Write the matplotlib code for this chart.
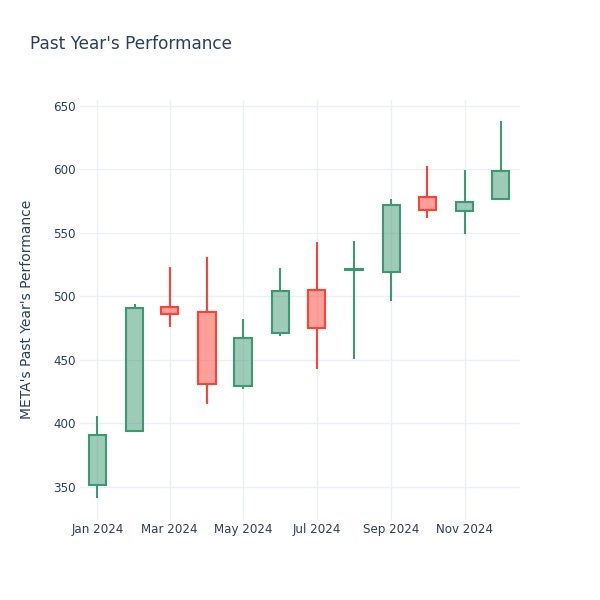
import matplotlib
matplotlib.use("Agg")
import matplotlib.pyplot as plt
import matplotlib.dates as mdates
import pandas as pd
import numpy as np

months = ["2024-01-01", "2024-02-01", "2024-03-01", "2024-04-01", "2024-05-01", "2024-06-01",
          "2024-07-01", "2024-08-01", "2024-09-01", "2024-10-01", "2024-11-01", "2024-12-01"]
open_ = [351, 394, 492, 488, 429, 471, 505, 520.5, 519.5, 578, 567.5, 577]
close = [390.5, 490.5, 486, 431, 467, 504, 475, 521.5, 572, 568, 574, 599]
high = [406, 494, 523, 531, 482, 522.5, 542.5, 544, 577, 602.5, 599.5, 638]
low = [341, 393, 476, 415, 427, 468.5, 443, 451, 496, 562, 549.5, 576]

title = "Past Year's Performance"
ylabel = "META's Past Year's Performance"

txt = "#2a3f5f"
grid = "#EBF0F8"
inc_line, inc_fill = "#3D9970", (61/255, 153/255, 112/255, 0.5)
dec_line, dec_fill = "#FF4136", (255/255, 65/255, 54/255, 0.5)

plt.rcParams['font.family'] = ['DejaVu Sans']
fig = plt.figure(figsize=(6, 6), dpi=100)
ax = fig.add_axes([80/600, 80/600, 440/600, 420/600])

x = mdates.date2num(pd.to_datetime(months).to_pydatetime())
width = 14.4
for xi, o, c, h, l in zip(x, open_, close, high, low):
    up = c >= o
    lc = inc_line if up else dec_line
    fc = inc_fill if up else dec_fill
    top, bot = max(o, c), min(o, c)
    ax.plot([xi, xi], [top, h], color=lc, lw=1.5, solid_capstyle='butt', zorder=2)
    ax.plot([xi, xi], [l, bot], color=lc, lw=1.5, solid_capstyle='butt', zorder=2)
    ax.bar(xi, top - bot, bottom=bot, width=width, facecolor=fc, edgecolor=lc,
           linewidth=1.5, zorder=3)

ax.set_xlim(mdates.date2num(pd.Timestamp("2023-12-17 12:00")), mdates.date2num(pd.Timestamp("2024-12-17")))
ax.set_ylim(323.8, 654.7)

ticks = mdates.date2num(pd.to_datetime(["2024-01-01", "2024-03-01", "2024-05-01",
                                         "2024-07-01", "2024-09-01", "2024-11-01"]).to_pydatetime())
ax.set_xticks(ticks)
ax.xaxis.set_major_formatter(mdates.DateFormatter("%b %Y"))
ax.set_yticks([350, 400, 450, 500, 550, 600, 650])

for s in ax.spines.values():
    s.set_visible(False)
ax.grid(True, color=grid, lw=1, zorder=0)
ax.set_axisbelow(True)
ax.tick_params(length=0, labelsize=8.6, labelcolor=txt)
ax.tick_params(axis='x', pad=2)
ax.tick_params(axis='y', pad=3)

fig.text(30/600, 1 - 44/600, title, fontsize=12.2, color=txt, va='center', ha='left')
fig.text(27/600, 1 - 309/600, ylabel, fontsize=10, color=txt, va='center', ha='center', rotation=90)

fig.savefig("out.png", dpi=100, facecolor="white")
